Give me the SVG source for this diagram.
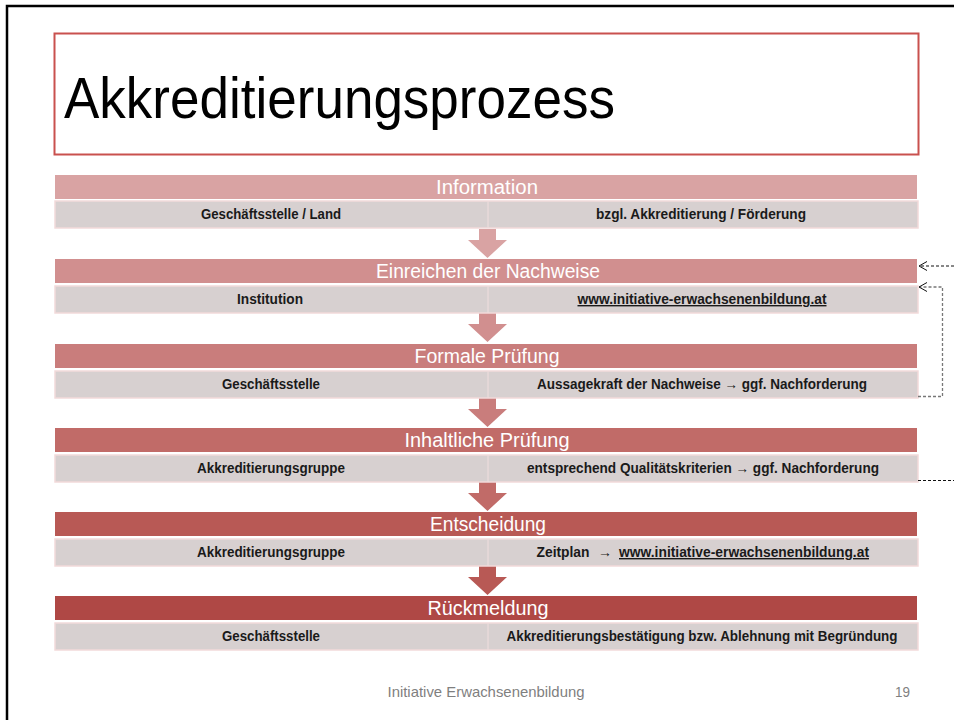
<svg xmlns="http://www.w3.org/2000/svg" width="954" height="720" viewBox="0 0 954 720">
<style>
.hd{font-family:"Liberation Sans",Arial,sans-serif;font-size:20px;fill:#ffffff;text-anchor:middle}
.tx{font-family:"Liberation Sans",Arial,sans-serif;font-size:14px;font-weight:bold;fill:#1a1a1a;text-anchor:middle}
.gr{fill:#D7D0D0;stroke:#F2DADA;stroke-width:1.5}
.dv{stroke:#ECDCDC;stroke-width:1.2}
.ul{text-decoration:underline}
.dash{fill:none;stroke:#111;stroke-width:1;stroke-dasharray:3 2}
.dashg{fill:none;stroke:#777;stroke-width:1.3;stroke-dasharray:3 2}
</style>
<defs>
<marker id="chev" viewBox="-10 -6 12 12" markerWidth="12" markerHeight="12" refX="0" refY="0" orient="auto" markerUnits="userSpaceOnUse">
<path d="M-8,-4.5 L0,0 L-8,4.5" fill="none" stroke="#111" stroke-width="1"/>
</marker>
</defs>
<rect x="0" y="0" width="954" height="720" fill="#ffffff"/>
<path d="M7,720 V6 H954" fill="none" stroke="#000" stroke-width="2.5"/>
<g id="title">
<rect x="54.5" y="33.5" width="864" height="121" fill="#ffffff" stroke="#C9514E" stroke-width="2"/>
<text x="64" y="118" font-family="Liberation Sans,Arial,sans-serif" font-size="57" fill="#000" textLength="551" lengthAdjust="spacingAndGlyphs">Akkreditierungsprozess</text>
</g>
<g id="arrows">
<path d="M479,229 H496 V240 H507 L487.5,258 L468,240 H479 Z" fill="#D9A3A3"/>
<path d="M479,313 H496 V324 H507 L487.5,342 L468,324 H479 Z" fill="#D18F8F"/>
<path d="M479,398 H496 V409 H507 L487.5,427 L468,409 H479 Z" fill="#C97D7C"/>
<path d="M479,482 H496 V493 H507 L487.5,511 L468,493 H479 Z" fill="#C16B68"/>
<path d="M479,566 H496 V577 H507 L487.5,595 L468,577 H479 Z" fill="#B85955"/>
</g>
<g id="n1">
<rect x="55" y="175" width="862" height="24" fill="#D9A3A3"/>
<text class="hd" x="487" y="194" textLength="102" lengthAdjust="spacingAndGlyphs">Information</text>
<rect class="gr" x="55" y="201" width="863" height="27"/>
<line class="dv" x1="488" y1="201" x2="488" y2="228"/>
<text class="tx" x="271" y="219" textLength="140" lengthAdjust="spacingAndGlyphs">Geschäftsstelle / Land</text>
<text class="tx" x="701" y="219" textLength="210" lengthAdjust="spacingAndGlyphs">bzgl. Akkreditierung / Förderung</text>
</g>
<g id="n2">
<rect x="55" y="259" width="862" height="24" fill="#D18F8F"/>
<text class="hd" x="488" y="278" textLength="224" lengthAdjust="spacingAndGlyphs">Einreichen der Nachweise</text>
<rect class="gr" x="55" y="286" width="863" height="27"/>
<line class="dv" x1="488" y1="286" x2="488" y2="313"/>
<text class="tx" x="270" y="304" textLength="66" lengthAdjust="spacingAndGlyphs">Institution</text>
<text class="tx ul" x="702" y="304" textLength="249" lengthAdjust="spacingAndGlyphs">www.initiative-erwachsenenbildung.at</text>
</g>
<g id="n3">
<rect x="55" y="344" width="862" height="24" fill="#C97D7C"/>
<text class="hd" x="487" y="363" textLength="145" lengthAdjust="spacingAndGlyphs">Formale Prüfung</text>
<rect class="gr" x="55" y="371" width="863" height="27"/>
<line class="dv" x1="488" y1="371" x2="488" y2="398"/>
<text class="tx" x="271" y="389" textLength="98" lengthAdjust="spacingAndGlyphs">Geschäftsstelle</text>
<text class="tx" x="702" y="389" textLength="330" lengthAdjust="spacingAndGlyphs">Aussagekraft der Nachweise → ggf. Nachforderung</text>
</g>
<g id="n4">
<rect x="55" y="428" width="862" height="24" fill="#C16B68"/>
<text class="hd" x="487" y="447" textLength="165" lengthAdjust="spacingAndGlyphs">Inhaltliche Prüfung</text>
<rect class="gr" x="55" y="455" width="863" height="27"/>
<line class="dv" x1="488" y1="455" x2="488" y2="482"/>
<text class="tx" x="271" y="473" textLength="148" lengthAdjust="spacingAndGlyphs">Akkreditierungsgruppe</text>
<text class="tx" x="703" y="473" textLength="352" lengthAdjust="spacingAndGlyphs">entsprechend Qualitätskriterien → ggf. Nachforderung</text>
</g>
<g id="n5">
<rect x="55" y="512" width="862" height="24" fill="#B85955"/>
<text class="hd" x="488" y="531" textLength="116" lengthAdjust="spacingAndGlyphs">Entscheidung</text>
<rect class="gr" x="55" y="539" width="863" height="27"/>
<line class="dv" x1="488" y1="539" x2="488" y2="566"/>
<text class="tx" x="271" y="557" textLength="148" lengthAdjust="spacingAndGlyphs">Akkreditierungsgruppe</text>
<text class="tx" x="563" y="557" textLength="53" lengthAdjust="spacingAndGlyphs">Zeitplan</text>
<text class="tx" x="605" y="557">→</text>
<text class="tx ul" x="744" y="557" textLength="250" lengthAdjust="spacingAndGlyphs">www.initiative-erwachsenenbildung.at</text>
</g>
<g id="n6">
<rect x="55" y="596" width="862" height="24" fill="#AF4845"/>
<text class="hd" x="488" y="615" textLength="121" lengthAdjust="spacingAndGlyphs">Rückmeldung</text>
<rect class="gr" x="55" y="623" width="863" height="27"/>
<line class="dv" x1="488" y1="623" x2="488" y2="650"/>
<text class="tx" x="271" y="641" textLength="98" lengthAdjust="spacingAndGlyphs">Geschäftsstelle</text>
<text class="tx" x="702" y="641" textLength="391" lengthAdjust="spacingAndGlyphs">Akkreditierungsbestätigung bzw. Ablehnung mit Begründung</text>
</g>
<g id="connectors">
<line class="dash" x1="954" y1="266" x2="919" y2="266" marker-end="url(#chev)"/>
<path class="dashg" d="M918,396.5 H942.5 V287 H919" marker-end="url(#chev)"/>
<line class="dash" x1="918" y1="480.5" x2="954" y2="480.5"/>
</g>
<g id="footer">
<text x="486" y="697" font-family="Liberation Sans,Arial,sans-serif" font-size="15" fill="#7F7F7F" text-anchor="middle" textLength="197" lengthAdjust="spacingAndGlyphs">Initiative Erwachsenenbildung</text>
<text x="910" y="697" font-family="Liberation Sans,Arial,sans-serif" font-size="15" fill="#7F7F7F" text-anchor="end" textLength="15" lengthAdjust="spacingAndGlyphs">19</text>
</g>
</svg>
